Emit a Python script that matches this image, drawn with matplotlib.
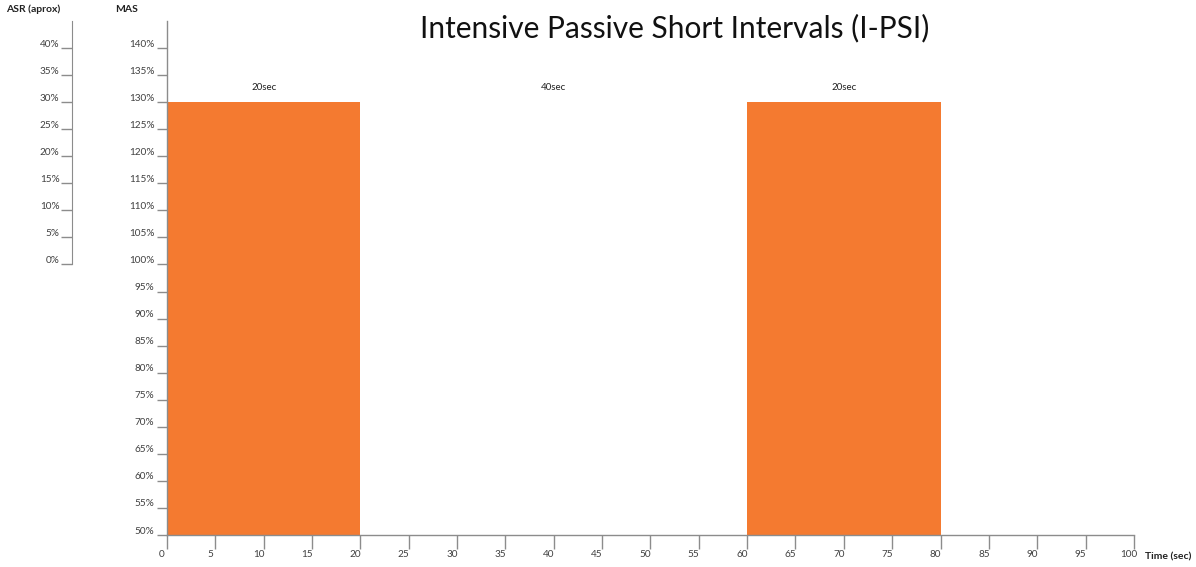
import numpy as np
import matplotlib.pyplot as plt
from matplotlib.transforms import ScaledTranslation

ORANGE = '#F47A30'
GREY = '#8C8C8C'
TEXT = '#404040'

plt.rcParams['font.family'] = ['Lato', 'DejaVu Sans']

# data
bar_start = [0, 60]
bar_width = [20, 20]
bar_mas = [130, 130]
labels = ["20sec", "40sec", "20sec"]
label_x = [10, 40, 70]
label_y = 132.7

x_ticks = list(range(0, 101, 5))
mas_ticks = list(range(50, 141, 5))
asr_ticks = list(range(0, 41, 5))

fig = plt.figure(figsize=(11.96, 5.67), dpi=100)
ax = fig.add_axes([0.1396, 0.0564, 0.8085, 0.9066])

ax.bar(bar_start, [h - 50 for h in bar_mas], width=bar_width, bottom=50,
       align='edge', color=ORANGE, linewidth=0)
for lx, lt in zip(label_x, labels):
    ax.text(lx, label_y, lt, ha='center', va='center', fontsize=7, color='#222222')

ax.set_xlim(0, 100)
ax.set_ylim(50, 145)
for s in ['top', 'right']:
    ax.spines[s].set_visible(False)
for s in ['left', 'bottom']:
    ax.spines[s].set_color(GREY)
    ax.spines[s].set_linewidth(1)

ax.set_xticks(x_ticks)
ax.set_xticklabels([str(t) for t in x_ticks])
ax.set_yticks(mas_ticks)
ax.set_yticklabels([f"{t}%" for t in mas_ticks])
ax.tick_params(axis='x', length=10, width=1, color=GREY, labelsize=7.2,
               labelcolor=TEXT, pad=0.5)
ax.tick_params(axis='y', length=7, width=1, color=GREY, labelsize=7.2,
               labelcolor=TEXT, pad=2)
for lab in ax.get_yticklabels():
    lab.set_transform(lab.get_transform() + ScaledTranslation(0, 5 / 100, fig.dpi_scale_trans))
for lab in ax.get_xticklabels():
    lab.set_transform(lab.get_transform() + ScaledTranslation(-5 / 100, 0, fig.dpi_scale_trans))

# ASR axis on the far left
ax2 = fig.add_axes([72 / 1196, 0.0564, 0.001, 0.9066])
ax2.set_ylim(-50, 45)
ax2.patch.set_visible(False)
for s in ['top', 'right', 'bottom']:
    ax2.spines[s].set_visible(False)
ax2.spines['left'].set_color(GREY)
ax2.spines['left'].set_bounds(0, 45)
ax2.set_xticks([])
ax2.set_yticks(asr_ticks)
ax2.set_yticklabels([f"{t}%" for t in asr_ticks])
ax2.tick_params(axis='y', length=8, width=1, color=GREY, labelsize=7.2,
                labelcolor=TEXT, pad=1)
for lab in ax2.get_yticklabels():
    lab.set_transform(lab.get_transform() + ScaledTranslation(0, 5 / 100, fig.dpi_scale_trans))

fig.text(0.5645, 1 - 28 / 567, "Intensive Passive Short Intervals (I-PSI)", ha='center',
         va='center', fontsize=21.5, color='#111111')
fig.text(33 / 1196, 1 - 9 / 567, "ASR (aprox)", ha='center', va='center',
         fontsize=7.5, fontweight='bold', color='#222222')
fig.text(127 / 1196, 1 - 9 / 567, "MAS", ha='center', va='center',
         fontsize=7.5, fontweight='bold', color='#222222')
fig.text(1168 / 1196, 1 - 557 / 567, "Time (sec)", ha='center', va='center',
         fontsize=7.5, fontweight='bold', color='#222222')

fig.savefig('out.png', dpi=100)
